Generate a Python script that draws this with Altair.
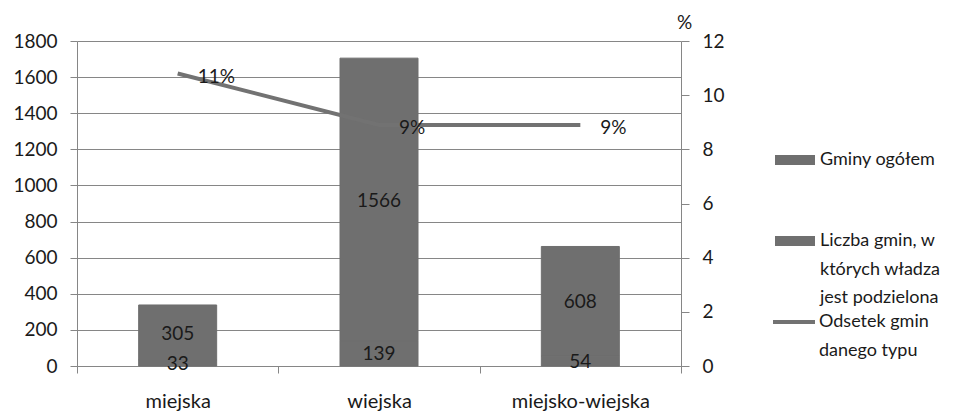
import altair as alt
import pandas as pd

# Typy gmin i wartości serii
kategorie = ["miejska", "wiejska", "miejsko-wiejska"]
gminy_ogolem = [305, 1566, 608]
gminy_podzielone = [33, 139, 54]
odsetek = [10.8, 8.9, 8.9]

S_OGOLEM = "Gminy ogółem"
S_PODZ = "Liczba gmin, w których władza jest podzielona"
S_ODS = "Odsetek gmin danego typu"

lewa_os = [0, 200, 400, 600, 800, 1000, 1200, 1400, 1600, 1800]
prawa_os = [0, 2, 4, 6, 8, 10, 12]

FONT = "Lato"
FS = 19
TXT = "#1a1a1a"
GRID = "#868686"
BAR = "#6f6f6f"
LINE = "#727272"

bars_df = pd.DataFrame({
    "typ": kategorie * 2,
    "seria": [S_OGOLEM] * 3 + [S_PODZ] * 3,
    "liczba": gminy_ogolem + gminy_podzielone,
    "kolejnosc": [1] * 3 + [0] * 3,
})
line_df = pd.DataFrame({"typ": kategorie, "seria": [S_ODS] * 3, "odsetek": odsetek})

x_axis = alt.Axis(
    title=None, labelAngle=0, tickBand="extent", tickSize=7, labelPadding=18,
    domainColor=GRID, tickColor=GRID, labelFontSize=20, labelColor=TXT,
)
x_scale = alt.Scale(paddingInner=0, paddingOuter=0)


def x_enc():
    return alt.X("typ:N", sort=kategorie, scale=x_scale, axis=x_axis)


y_left = alt.Scale(domain=[0, 1800], nice=False)
y_right = alt.Scale(domain=[0, 12], nice=False)

left_axis = alt.Axis(
    title=None, values=lewa_os, format="d", labelOverlap=False,
    grid=True, gridColor=GRID, domainColor=GRID,
    tickColor=GRID, tickSize=7, labelPadding=13, labelFontSize=FS, labelColor=TXT,
)
right_axis = alt.Axis(
    orient="right", values=prawa_os, labelOverlap=False, grid=False,
    domainColor=GRID, tickColor=GRID,
    tickSize=8, labelPadding=13, labelFontSize=FS, labelColor=TXT,
    title="%", titleAngle=0, titleX=3, titleY=-19, titleAlign="center",
    titleBaseline="middle", titleFontSize=FS, titleFontWeight="normal", titleColor=TXT,
)

# Podział długich nazw serii na wiersze legendy
label_expr = (
    f"datum.label === '{S_PODZ}' ? ['Liczba gmin, w', 'których władza', 'jest podzielona'] : "
    f"datum.label === '{S_ODS}' ? ['Odsetek gmin', 'danego typu'] : datum.label"
)

bars = alt.Chart(bars_df).mark_bar(size=78, stroke=BAR, strokeWidth=1).encode(
    x=x_enc(),
    y=alt.Y("liczba:Q", stack="zero", scale=y_left, axis=left_axis),
    order=alt.Order("kolejnosc:Q"),
    color=alt.Color(
        "seria:N",
        sort=[S_OGOLEM, S_PODZ],
        scale=alt.Scale(domain=[S_OGOLEM, S_PODZ], range=[BAR, BAR]),
        legend=alt.Legend(
            title=None, orient="none", legendX=698, legendY=99, padding=0,
            symbolType="M-1,-0.25H1V0.25H-1Z", symbolSize=1600, symbolStrokeWidth=0,
            labelFontSize=18, labelColor=TXT, labelOffset=5, labelLimit=300,
            labelAlign="left", rowPadding=52, labelExpr=label_expr,
        ),
    ),
)

bar_labels = alt.Chart(bars_df).transform_stack(
    stack="liczba", groupby=["typ"], as_=["y0", "y1"],
    sort=[alt.SortField("kolejnosc", order="ascending")],
).transform_calculate(
    srodek="(datum.y0 + datum.y1) / 2"
).mark_text(fontSize=FS, color=TXT, baseline="middle", dy=1).encode(
    x=x_enc(),
    y=alt.Y("srodek:Q", scale=y_left, axis=left_axis),
    text=alt.Text("liczba:Q"),
)

line = alt.Chart(line_df).mark_line(strokeWidth=4).encode(
    x=x_enc(),
    y=alt.Y("odsetek:Q", scale=y_right, axis=right_axis),
    stroke=alt.Stroke(
        "seria:N",
        scale=alt.Scale(domain=[S_ODS], range=[LINE]),
        legend=alt.Legend(
            title=None, orient="none", legendX=694, legendY=258, padding=0,
            symbolType="stroke", symbolSize=1764, symbolStrokeWidth=4,
            labelFontSize=18, labelColor=TXT, labelOffset=2, labelLimit=300,
            labelAlign="left", labelExpr=label_expr,
        ),
    ),
)

line_labels = alt.Chart(line_df).transform_calculate(
    etykieta="format(datum.odsetek, '.0f') + '%'"
).mark_text(
    fontSize=FS, color=TXT, align="left", baseline="middle", dx=20, dy=3
).encode(
    x=x_enc(),
    y=alt.Y("odsetek:Q", scale=y_right, axis=right_axis),
    text="etykieta:N",
)

chart = alt.layer(
    alt.layer(bars, bar_labels),
    alt.layer(line, line_labels),
).resolve_scale(
    y="independent", color="independent"
).properties(
    width=604, height=325,
    autosize=alt.AutoSizeParams(type="none"),
    padding={"left": 77, "top": 41, "right": 275, "bottom": 45},
).configure(
    font=FONT, background="white",
    style={"guide-label": {"lineHeight": 28.5}},
).configure_view(
    stroke=None
)

chart.save("out.html", embed_options={"renderer": "svg", "actions": False})
